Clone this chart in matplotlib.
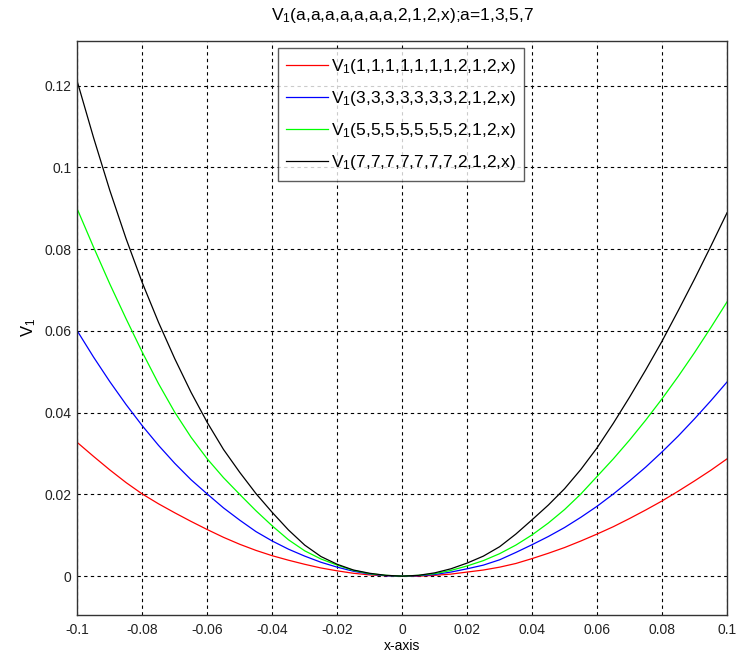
import matplotlib
matplotlib.use('Agg')
import matplotlib.pyplot as plt

plt.rcParams['font.family'] = ['Liberation Sans', 'DejaVu Sans']
plt.rcParams['mathtext.fontset'] = 'custom'
plt.rcParams['mathtext.rm'] = 'Liberation Sans'

# values, every 0.005 on x
x = [-0.1, -0.095, -0.09, -0.085, -0.08, -0.075, -0.07, -0.065, -0.06, -0.055,
     -0.05, -0.045, -0.04, -0.035, -0.03, -0.025, -0.02, -0.015, -0.01, -0.005,
     0.0,
     0.005, 0.01, 0.015, 0.02, 0.025, 0.03, 0.035, 0.04, 0.045, 0.05,
     0.055, 0.06, 0.065, 0.07, 0.075, 0.08, 0.085, 0.09, 0.095, 0.1]
v_a1 = [0.0327, 0.0293, 0.0260, 0.0229, 0.0201, 0.0177, 0.0155, 0.0134, 0.0114, 0.0095,
        0.0078, 0.0063, 0.0050, 0.0039, 0.0029, 0.0020, 0.0013, 0.0007, 0.0003, 0.0001,
        0.0,
        0.0000, 0.0002, 0.0005, 0.0010, 0.0015, 0.0022, 0.0031, 0.0043, 0.0056, 0.0070,
        0.0086, 0.0103, 0.0121, 0.0141, 0.0162, 0.0184, 0.0208, 0.0233, 0.0259, 0.0287]
v_a3 = [0.0600, 0.0536, 0.0476, 0.0420, 0.0368, 0.0320, 0.0276, 0.0236, 0.0201, 0.0167,
        0.0137, 0.0109, 0.0086, 0.0066, 0.0049, 0.0034, 0.0022, 0.0012, 0.0005, 0.0001,
        0.0,
        0.0001, 0.0004, 0.0010, 0.0018, 0.0027, 0.0040, 0.0058, 0.0077, 0.0097, 0.0119,
        0.0144, 0.0171, 0.0201, 0.0233, 0.0267, 0.0304, 0.0343, 0.0385, 0.0429, 0.0475]
v_a5 = [0.0898, 0.0805, 0.0715, 0.0630, 0.0548, 0.0471, 0.0401, 0.0340, 0.0287, 0.0241,
        0.0200, 0.0160, 0.0123, 0.0089, 0.0062, 0.0042, 0.0027, 0.0014, 0.0006, 0.0002,
        0.0,
        0.0002, 0.0006, 0.0014, 0.0025, 0.0038, 0.0055, 0.0076, 0.0101, 0.0130, 0.0163,
        0.0201, 0.0244, 0.0287, 0.0333, 0.0382, 0.0434, 0.0489, 0.0547, 0.0608, 0.0671]
v_a7 = [0.1210, 0.1073, 0.0944, 0.0826, 0.0718, 0.0621, 0.0532, 0.0450, 0.0376, 0.0310,
        0.0254, 0.0202, 0.0156, 0.0113, 0.0076, 0.0048, 0.0029, 0.0015, 0.0007, 0.0002,
        0.0,
        0.0002, 0.0008, 0.0018, 0.0032, 0.0049, 0.0072, 0.0103, 0.0138, 0.0174, 0.0214,
        0.0261, 0.0314, 0.0374, 0.0438, 0.0505, 0.0575, 0.0650, 0.0727, 0.0807, 0.0889]

series = [v_a1, v_a3, v_a5, v_a7]
colors = ['#ff0000', '#0000ff', '#00ff00', '#000000']
labels = [r'$\mathregular{V_1}$(1,1,1,1,1,1,1,2,1,2,x)',
          r'$\mathregular{V_1}$(3,3,3,3,3,3,3,2,1,2,x)',
          r'$\mathregular{V_1}$(5,5,5,5,5,5,5,2,1,2,x)',
          r'$\mathregular{V_1}$(7,7,7,7,7,7,7,2,1,2,x)']
xticks = [-0.1, -0.08, -0.06, -0.04, -0.02, 0, 0.02, 0.04, 0.06, 0.08, 0.1]
xticklabels = ['-0.1', '-0.08', '-0.06', '-0.04', '-0.02', '0', '0.02', '0.04', '0.06', '0.08', '0.1']
yticks = [0, 0.02, 0.04, 0.06, 0.08, 0.1, 0.12]
yticklabels = ['0', '0.02', '0.04', '0.06', '0.08', '0.1', '0.12']

fig = plt.figure(figsize=(7.39, 6.59), dpi=100)
ax = fig.add_axes([0.1046, 0.0668, 0.8792, 0.8714])

for vals, c, lab in zip(series, colors, labels):
    ax.plot(x, vals, color=c, linewidth=0.9, label=lab)

ax.set_xlim(-0.1, 0.1)
ax.set_ylim(-0.0095, 0.131)
ax.set_xticks(xticks)
ax.set_xticklabels(xticklabels)
ax.set_yticks(yticks)
ax.set_yticklabels(yticklabels)
ax.tick_params(direction='in', length=0, labelsize=10, colors='#222222')
ax.tick_params(axis='y', pad=4)
ax.tick_params(axis='x', pad=6)
ax.grid(True, color='black', linestyle=(0, (3, 3)), linewidth=0.8)
for s in ax.spines.values():
    s.set_color('#333333')
    s.set_linewidth(1.0)

ax.set_title(r'$\mathregular{V_1}$(a,a,a,a,a,a,a,2,1,2,x);a=1,3,5,7', fontsize=12.5, pad=15)
ax.set_xlabel('x-axis', fontsize=10, labelpad=1)
ax.set_ylabel(r'$\mathregular{V_1}$', fontsize=12, labelpad=5)

leg = ax.legend(loc='upper left', bbox_to_anchor=(0.3085, 0.9868), fontsize=12.5,
                frameon=True, fancybox=False, borderpad=0.5, labelspacing=0.75,
                handlelength=2.4, handletextpad=0.15, borderaxespad=0)
leg.get_frame().set_edgecolor('#333333')
leg.get_frame().set_linewidth(1.0)

fig.savefig('out.png', dpi=100)
